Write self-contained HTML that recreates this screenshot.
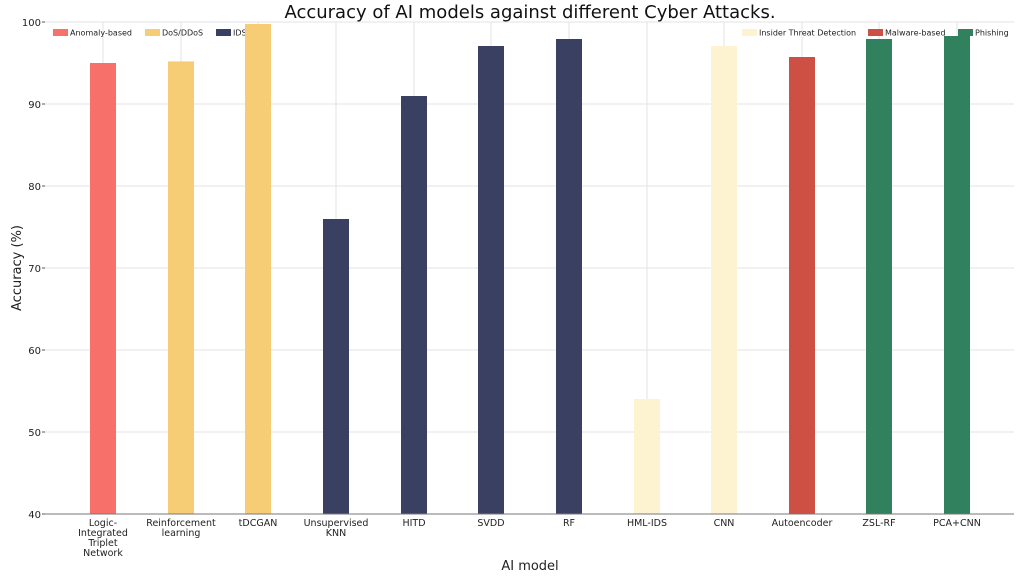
<!DOCTYPE html>
<html><head><meta charset="utf-8"><style>
body{margin:0;background:#fff}
svg{display:block;font-family:"DejaVu Sans","Liberation Sans",sans-serif}
</style></head><body>
<svg width="1024" height="576" viewBox="0 0 1024 576" xmlns="http://www.w3.org/2000/svg">
<rect width="1024" height="576" fill="#fff"/>
<text x="530" y="18" font-size="18" text-anchor="middle" fill="#111">Accuracy of AI models against different Cyber Attacks.</text>
<!-- horizontal grid -->
<g stroke="#e3e3e3" stroke-width="1">
<line x1="45" x2="1014" y1="22" y2="22"/>
<line x1="45" x2="1014" y1="104" y2="104"/>
<line x1="45" x2="1014" y1="186" y2="186"/>
<line x1="45" x2="1014" y1="268" y2="268"/>
<line x1="45" x2="1014" y1="350" y2="350"/>
<line x1="45" x2="1014" y1="432" y2="432"/>
<line x1="103" x2="103" y1="22" y2="514"/>
<line x1="181" x2="181" y1="22" y2="514"/>
<line x1="258" x2="258" y1="22" y2="514"/>
<line x1="336" x2="336" y1="22" y2="514"/>
<line x1="414" x2="414" y1="22" y2="514"/>
<line x1="491" x2="491" y1="22" y2="514"/>
<line x1="569" x2="569" y1="22" y2="514"/>
<line x1="647" x2="647" y1="22" y2="514"/>
<line x1="724" x2="724" y1="22" y2="514"/>
<line x1="802" x2="802" y1="22" y2="514"/>
<line x1="879" x2="879" y1="22" y2="514"/>
<line x1="957" x2="957" y1="22" y2="514"/>
</g>
<!-- legend -->
<g font-size="8" fill="#222">
<rect x="53" y="29" width="15" height="7" fill="#f7706a"/><text x="70" y="35.5">Anomaly-based</text>
<rect x="145" y="29" width="15" height="7" fill="#f6cd74"/><text x="162" y="35.5">DoS/DDoS</text>
<rect x="216" y="29" width="15" height="7" fill="#3a4062"/><text x="233" y="35.5">IDS</text>
<rect x="742" y="29" width="15" height="7" fill="#fdf3d0"/><text x="759" y="35.5">Insider Threat Detection</text>
<rect x="868" y="29" width="15" height="7" fill="#ce5044"/><text x="885" y="35.5">Malware-based</text>
<rect x="958" y="29" width="15" height="7" fill="#31805e"/><text x="975" y="35.5">Phishing</text>
</g>
<!-- bars -->
<rect x="90" y="63" width="26" height="451" fill="#f7706a"/>
<rect x="168" y="61.4" width="26" height="452.6" fill="#f6cd74"/>
<rect x="245" y="24" width="26" height="490" fill="#f6cd74"/>
<rect x="323" y="219" width="26" height="295" fill="#3a4062"/>
<rect x="401" y="96" width="26" height="418" fill="#3a4062"/>
<rect x="478" y="46" width="26" height="468" fill="#3a4062"/>
<rect x="556" y="39" width="26" height="475" fill="#3a4062"/>
<rect x="634" y="399" width="26" height="115" fill="#fdf3d0"/>
<rect x="711" y="46" width="26" height="468" fill="#fdf3d0"/>
<rect x="789" y="57" width="26" height="457" fill="#ce5044"/>
<rect x="866" y="39" width="26" height="475" fill="#31805e"/>
<rect x="944" y="36" width="26" height="478" fill="#31805e"/>
<!-- axis -->
<line x1="45" x2="1014" y1="514" y2="514" stroke="#777" stroke-width="1"/>
<g stroke="#555"><line x1="42" x2="45" y1="22" y2="22"/><line x1="42" x2="45" y1="104" y2="104"/><line x1="42" x2="45" y1="186" y2="186"/><line x1="42" x2="45" y1="268" y2="268"/><line x1="42" x2="45" y1="350" y2="350"/><line x1="42" x2="45" y1="432" y2="432"/><line x1="42" x2="45" y1="514" y2="514"/></g>
<g font-size="10" fill="#222" text-anchor="end">
<text x="41" y="26">100</text><text x="41" y="108">90</text><text x="41" y="190">80</text><text x="41" y="272">70</text><text x="41" y="354">60</text><text x="41" y="436">50</text><text x="41" y="518">40</text>
</g>
<g font-size="9.5" fill="#222" text-anchor="middle">
<text x="103" y="526">Logic-</text><text x="103" y="536">Integrated</text><text x="103" y="546">Triplet</text><text x="103" y="556">Network</text>
<text x="181" y="526">Reinforcement</text><text x="181" y="536">learning</text>
<text x="258" y="526">tDCGAN</text>
<text x="336" y="526">Unsupervised</text><text x="336" y="536">KNN</text>
<text x="414" y="526">HITD</text>
<text x="491" y="526">SVDD</text>
<text x="569" y="526">RF</text>
<text x="647" y="526">HML-IDS</text>
<text x="724" y="526">CNN</text>
<text x="802" y="526">Autoencoder</text>
<text x="879" y="526">ZSL-RF</text>
<text x="957" y="526">PCA+CNN</text>
</g>
<text x="530" y="570" font-size="13" text-anchor="middle" fill="#222">AI model</text>
<text transform="translate(21,268) rotate(-90)" font-size="13" text-anchor="middle" fill="#222">Accuracy (%)</text>
</svg>
</body></html>
